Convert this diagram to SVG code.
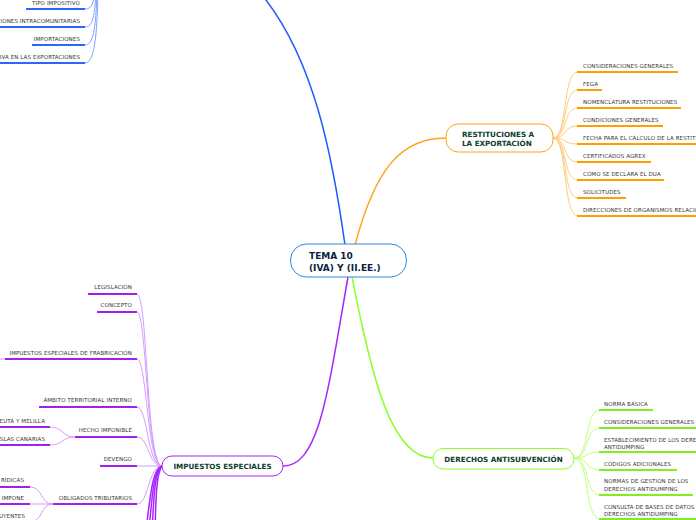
<svg xmlns="http://www.w3.org/2000/svg" width="696" height="520" viewBox="0 0 696 520">
<style>
.leaf{font-family:"DejaVu Sans",Verdana,sans-serif;font-size:5.5px;fill:#333;letter-spacing:0.1px}
.end{text-anchor:end}
.nt{font-family:"DejaVu Sans",Verdana,sans-serif;font-weight:bold;font-size:7.2px;fill:#0b3d2e}
.ct{font-family:"DejaVu Sans",Verdana,sans-serif;font-weight:bold;font-size:9px;fill:#0c1f44}
.c{fill:none}
.bm{stroke:#1e5bff;stroke-width:1.5}
.bl{stroke:#7fa3ff;stroke-width:1}
.bu{stroke:#2a66ff;stroke-width:2}
.om{stroke:#ffa31a;stroke-width:1.5}
.ol{stroke:#ffcc80;stroke-width:1}
.ou{stroke:#ffa000;stroke-width:2}
.gm{stroke:#8cff2a;stroke-width:1.5}
.gl{stroke:#c0ff80;stroke-width:1}
.gu{stroke:#80ee20;stroke-width:2}
.pm{stroke:#a526ff;stroke-width:1.5}
.pl{stroke:#d39bff;stroke-width:1}
.pu{stroke:#a020f0;stroke-width:2}
</style>
<rect width="696" height="520" fill="#ffffff"/>
<g id="connectors" class="c">
  <!-- main -->
  <path class="bm" d="M345,245 C333,160 315,60 262,-5"/>
  <path class="om" d="M355,245 C375,170 400,138 446,138"/>
  <path class="gm" d="M352,277 C372,380 392,458 433,458"/>
  <path class="pm" d="M348,277 C328,390 320,466 283,466"/>
  <!-- blue leaves -->
  <path class="bl" d="M85,9 C92,9 94,2 95,-10"/>
  <path class="bl" d="M85,27 C93,27 95,15 96,-10"/>
  <path class="bl" d="M85,45 C93,45 96,30 97,-10"/>
  <path class="bl" d="M85,63 C94,63 97,40 98,-10"/>
  <!-- orange leaves -->
  <path class="ol" d="M553,138 C568,138 562,72 578,72"/>
  <path class="ol" d="M553,138 C568,138 562,90 578,90"/>
  <path class="ol" d="M553,138 C568,138 562,108 578,108"/>
  <path class="ol" d="M553,138 C568,138 562,126 578,126"/>
  <path class="ol" d="M553,138 C568,138 562,144 578,144"/>
  <path class="ol" d="M553,138 C568,138 562,162 578,162"/>
  <path class="ol" d="M553,138 C568,138 562,180 578,180"/>
  <path class="ol" d="M553,138 C568,138 562,198 578,198"/>
  <path class="ol" d="M553,138 C568,138 562,216 578,216"/>
  <!-- green leaves -->
  <path class="gl" d="M574,458 C590,458 584,410 600,410"/>
  <path class="gl" d="M574,458 C590,458 584,428 600,428"/>
  <path class="gl" d="M574,458 C590,458 584,452 600,452"/>
  <path class="gl" d="M574,458 C590,458 584,470 600,470"/>
  <path class="gl" d="M574,458 C590,458 584,495 600,495"/>
  <path class="gl" d="M574,458 C590,458 584,519 600,519"/>
  <!-- purple leaves -->
  <path class="pl" d="M137,294 C148,294 146,466 162,466"/>
  <path class="pl" d="M137,312 C147,312 146,466 162,466"/>
  <path class="pl" d="M137,359 C147,359 147,466 162,466"/>
  <path class="pl" d="M137,407 C148,407 147,466 162,466"/>
  <path class="pl" d="M137,437 C149,437 148,466 162,466"/>
  <path class="pl" d="M137,466 L162,466"/>
  <path class="pl" d="M137,504 C149,504 148,466 162,466"/>
  <path class="pm" d="M162,466 C152,468 150,500 146,530"/>
  <path class="pm" d="M162,466 C153,470 152,500 149,530"/>
  <path class="pm" d="M162,466 C154,472 154,500 152,530"/>
  <path class="pm" d="M162,466 C156,474 156,500 155,530"/>
  <!-- sub leaves -->
  <path class="pl" d="M75,437 C62,437 63,427 50,427"/>
  <path class="pl" d="M75,437 C62,437 63,445 50,445"/>
  <path class="pl" d="M53,504 C40,504 43,487 30,487"/>
  <path class="pl" d="M53,504 L30,504"/>
  <path class="pl" d="M53,504 C40,504 43,522 30,522"/>
</g>
<g id="center">
  <rect x="290.5" y="244" width="116" height="33" rx="16" fill="#fff" stroke="#2f87d8" stroke-width="1"/>
  <text class="ct" x="309" y="259">TEMA 10</text>
  <text class="ct" x="309" y="270.5">(IVA) Y (II.EE.)</text>
</g>
<g id="n-restituciones">
  <rect x="446" y="124" width="107" height="28" rx="12" fill="#fff" stroke="#ffa31a" stroke-width="1"/>
  <text class="nt" x="462" y="137">RESTITUCIONES A</text>
  <text class="nt" x="462" y="146">LA EXPORTACIÓN</text>
</g>
<g id="n-antisubvencion">
  <rect x="433" y="448.5" width="141" height="20.5" rx="10" fill="#fff" stroke="#8cff2a" stroke-width="1"/>
  <text class="nt" x="503.5" y="461.5" text-anchor="middle">DERECHOS ANTISUBVENCIÓN</text>
</g>
<g id="n-impuestos">
  <rect x="162" y="456" width="121" height="20" rx="10" fill="#fff" stroke="#a526ff" stroke-width="1"/>
  <text class="nt" x="222.5" y="468.5" text-anchor="middle">IMPUESTOS ESPECIALES</text>
</g>
<g id="blue-leaves">
  <line class="bu" x1="26" y1="9" x2="85" y2="9"/><text class="leaf end" x="80" y="5">TIPO IMPOSITIVO</text>
  <line class="bu" x1="0" y1="27" x2="85" y2="27"/><text class="leaf end" x="80" y="23">ADQUISICIONES INTRACOMUNITARIAS</text>
  <line class="bu" x1="32" y1="45" x2="85" y2="45"/><text class="leaf end" x="80" y="41">IMPORTACIONES</text>
  <line class="bu" x1="0" y1="63" x2="85" y2="63"/><text class="leaf end" x="80" y="59">IVA EN LAS EXPORTACIONES</text>
</g>
<g id="orange-leaves">
  <line class="ou" x1="577" y1="72" x2="678" y2="72"/><text class="leaf" x="583" y="68">CONSIDERACIONES GENERALES</text>
  <line class="ou" x1="577" y1="90" x2="602" y2="90"/><text class="leaf" x="583" y="86">FEGA</text>
  <line class="ou" x1="577" y1="108" x2="681" y2="108"/><text class="leaf" x="583" y="104">NOMENCLATURA RESTITUCIONES</text>
  <line class="ou" x1="577" y1="126" x2="663" y2="126"/><text class="leaf" x="583" y="122">CONDICIONES GENERALES</text>
  <line class="ou" x1="577" y1="144" x2="700" y2="144"/><text class="leaf" x="583" y="140">FECHA PARA EL CÁLCULO DE LA RESTITUCIÓN</text>
  <line class="ou" x1="577" y1="162" x2="651" y2="162"/><text class="leaf" x="583" y="158">CERTIFICADOS AGREX</text>
  <line class="ou" x1="577" y1="180" x2="664" y2="180"/><text class="leaf" x="583" y="176">CÓMO SE DECLARA EL DUA</text>
  <line class="ou" x1="577" y1="198" x2="626" y2="198"/><text class="leaf" x="583" y="194">SOLICITUDES</text>
  <line class="ou" x1="577" y1="216" x2="700" y2="216"/><text class="leaf" x="583" y="212">DIRECCIONES DE ORGANISMOS RELACIONADOS</text>
</g>
<g id="green-leaves">
  <line class="gu" x1="599" y1="410" x2="653" y2="410"/><text class="leaf" x="604" y="406">NORMA BÁSICA</text>
  <line class="gu" x1="599" y1="428" x2="700" y2="428"/><text class="leaf" x="604" y="424">CONSIDERACIONES GENERALES</text>
  <line class="gu" x1="599" y1="452" x2="700" y2="452"/><text class="leaf" x="604" y="441.5">ESTABLECIMIENTO DE LOS DERECHOS</text><text class="leaf" x="604" y="449">ANTIDUMPING</text>
  <line class="gu" x1="599" y1="470" x2="677" y2="470"/><text class="leaf" x="604" y="466">CÓDIGOS ADICIONALES</text>
  <line class="gu" x1="599" y1="495" x2="693" y2="495"/><text class="leaf" x="604" y="483">NORMAS DE GESTIÓN DE LOS</text><text class="leaf" x="604" y="491">DERECHOS ANTIDUMPING</text>
  <line class="gu" x1="599" y1="519" x2="700" y2="519"/><text class="leaf" x="604" y="509">CONSULTA DE BASES DE DATOS</text><text class="leaf" x="604" y="516">DERECHOS ANTIDUMPING</text>
</g>
<g id="purple-leaves">
  <line class="pu" x1="88" y1="294" x2="137" y2="294"/><text class="leaf end" x="132" y="289">LEGISLACIÓN</text>
  <line class="pu" x1="97" y1="312" x2="137" y2="312"/><text class="leaf end" x="132" y="307">CONCEPTO</text>
  <line class="pl" x1="0" y1="359" x2="5" y2="359"/>
  <line class="pu" x1="5" y1="359" x2="137" y2="359"/><text class="leaf end" x="132" y="355">IMPUESTOS ESPECIALES DE FRABRICACIÓN</text>
  <line class="pu" x1="39" y1="407" x2="137" y2="407"/><text class="leaf end" x="132" y="402">ÁMBITO TERRITORIAL INTERNO</text>
  <line class="pu" x1="75" y1="437" x2="137" y2="437"/><text class="leaf end" x="132" y="432">HECHO IMPONIBLE</text>
  <line class="pu" x1="100" y1="466" x2="137" y2="466"/><text class="leaf end" x="132" y="461">DEVENGO</text>
  <line class="pu" x1="53" y1="504" x2="137" y2="504"/><text class="leaf end" x="132" y="500">OBLIGADOS TRIBUTARIOS</text>
  <line class="pu" x1="0" y1="427" x2="50" y2="427"/><text class="leaf end" x="45" y="423">CEUTA Y MELILLA</text>
  <line class="pu" x1="0" y1="445" x2="50" y2="445"/><text class="leaf end" x="45" y="441">ISLAS CANARIAS</text>
  <line class="pu" x1="0" y1="487" x2="30" y2="487"/><text class="leaf end" x="24" y="482">RÍDICAS</text>
  <line class="pu" x1="0" y1="504" x2="30" y2="504"/><text class="leaf end" x="24" y="500">IMPONE</text>
  <line class="pu" x1="0" y1="522" x2="30" y2="522"/><text class="leaf end" x="25" y="518">UYENTES</text>
</g>
</svg>
